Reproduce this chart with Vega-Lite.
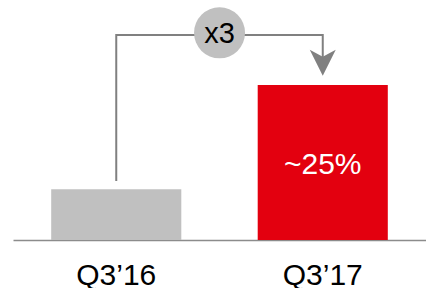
{
  "$schema": "https://vega.github.io/schema/vega-lite/v6.json",
  "width": 413,
  "height": 240,
  "autosize": {"type": "none"},
  "padding": {"left": 13, "top": 0, "right": 0, "bottom": 48},
  "background": "white",
  "config": {"view": {"stroke": null}, "font": "Liberation Sans"},
  "datasets": {
    "bars": [
      {"q": "Q3’16", "v": 8.2},
      {"q": "Q3’17", "v": 25}
    ],
    "bracket": [
      {"q": "Q3’16", "v": 9.5, "o": 1},
      {"q": "Q3’16", "v": 33.06, "o": 2},
      {"q": "Q3’17", "v": 33.06, "o": 3},
      {"q": "Q3’17", "v": 29.4, "o": 4}
    ],
    "arrow": [{"q": "Q3’17", "v": 28.6}],
    "badge": [{"q": "Q3’16", "v": 33.4, "t": "x3"}],
    "inlabel": [{"q": "Q3’17", "v": 12.1, "t": "~25%"}]
  },
  "layer": [
    {
      "data": {"name": "bars"},
      "mark": {"type": "bar"},
      "encoding": {
        "x": {
          "field": "q", "type": "nominal", "sort": null,
          "scale": {"paddingInner": 0.37, "paddingOuter": 0.185},
          "axis": {
            "title": null, "ticks": false, "labelAngle": 0,
            "domainColor": "#8c8c8c", "domainWidth": 1.5,
            "labelFontSize": 30, "labelColor": "#000000",
            "labelFont": "Liberation Sans", "labelBaseline": "alphabetic",
            "labelPadding": 44
          }
        },
        "y": {
          "field": "v", "type": "quantitative",
          "scale": {"domain": [0, 38.7], "nice": false, "zero": true},
          "axis": null
        },
        "color": {
          "field": "q", "type": "nominal",
          "scale": {"domain": ["Q3’16", "Q3’17"], "range": ["#c0c0c0", "#e3000f"]},
          "legend": null
        }
      }
    },
    {
      "data": {"name": "bracket"},
      "mark": {"type": "line", "color": "#808080", "strokeWidth": 2, "interpolate": "linear"},
      "encoding": {
        "x": {"field": "q", "type": "nominal", "sort": null},
        "y": {"field": "v", "type": "quantitative"},
        "order": {"field": "o", "type": "quantitative"}
      }
    },
    {
      "data": {"name": "arrow"},
      "mark": {"type": "point", "shape": "M-1,-1L0,1L1,-1L0,-0.45Z", "filled": true, "color": "#808080", "size": 676, "opacity": 1},
      "encoding": {
        "x": {"field": "q", "type": "nominal", "sort": null},
        "y": {"field": "v", "type": "quantitative"}
      }
    },
    {
      "data": {"name": "badge"},
      "mark": {"type": "point", "shape": "circle", "filled": true, "color": "#c0c0c0", "size": 2600, "opacity": 1},
      "encoding": {
        "x": {"field": "q", "type": "nominal", "sort": null, "bandPosition": 1.294},
        "y": {"field": "v", "type": "quantitative"}
      }
    },
    {
      "data": {"name": "badge"},
      "mark": {"type": "text", "fontSize": 29, "color": "#000000", "baseline": "middle", "align": "center", "font": "Liberation Sans", "dy": 1},
      "encoding": {
        "x": {"field": "q", "type": "nominal", "sort": null, "bandPosition": 1.294},
        "y": {"field": "v", "type": "quantitative"},
        "text": {"field": "t"}
      }
    },
    {
      "data": {"name": "inlabel"},
      "mark": {"type": "text", "fontSize": 30, "color": "#ffffff", "baseline": "middle", "align": "center", "font": "Liberation Sans"},
      "encoding": {
        "x": {"field": "q", "type": "nominal", "sort": null},
        "y": {"field": "v", "type": "quantitative"},
        "text": {"field": "t"}
      }
    }
  ]
}
